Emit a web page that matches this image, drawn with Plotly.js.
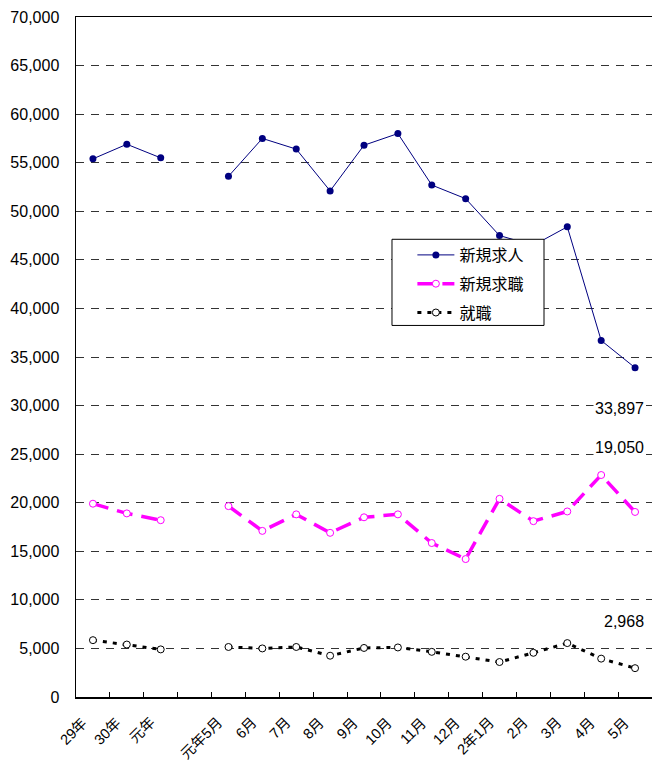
<!DOCTYPE html>
<html>
<head>
<meta charset="utf-8">
<script src="https://cdn.plot.ly/plotly-3.0.1.min.js"></script>
<style>html,body{margin:0;padding:0;background:#fff;}#chart{width:652px;height:764px;}</style>
</head>
<body>
<div id="chart"></div>
<script>
const categories = ['29年','30年','元年',' ','元年5月','6月','7月','8月','9月','10月','11月','12月','2年1月','2月','3月','4月','5月'];
const newOpenings = [55400, 56900, 55500, null, 53600, 57500, 56400, 52100, 56800, 58000, 52700, 51300, 47500, 46500, 48400, 36700, 33897];
const newSeekers  = [19900, 18900, 18200, null, 19650, 17100, 18800, 16900, 18500, 18800, 15850, 14200, 20400, 18100, 19100, 22850, 19050];
const placements  = [5850, 5400, 4900, null, 5150, 5000, 5150, 4250, 5050, 5100, 4650, 4150, 3600, 4550, 5550, 3950, 2968];
const seriesNames = ['新規求人','新規求職','就職'];
const yTickVals = [0,5000,10000,15000,20000,25000,30000,35000,40000,45000,50000,55000,60000,65000,70000];

const fontFam = "'Liberation Sans', 'Noto Sans CJK JP', sans-serif";
const fmt = v => v.toLocaleString('en-US');

const traces = [
  {x: categories, y: newOpenings, name: seriesNames[0], type: 'scatter', mode: 'lines+markers',
   connectgaps: false, legendgroup: 'a',
   line: {color: '#000080', width: 1},
   marker: {symbol: 'circle', size: 7, color: '#000080'}},
  {x: categories, y: newSeekers, name: seriesNames[1], type: 'scatter', mode: 'lines+markers',
   connectgaps: false, legendgroup: 'b',
   line: {color: '#FF00FF', width: 3.5, dash: '16px,9px'},
   marker: {symbol: 'circle', size: 7, color: '#FFFFFF', line: {color: '#FF00FF', width: 1}}},
  {x: categories, y: placements, name: seriesNames[2], type: 'scatter', mode: 'lines+markers',
   connectgaps: false, legendgroup: 'c',
   line: {color: '#000000', width: 3, dash: '4px,6px'},
   marker: {symbol: 'circle', size: 7, color: '#FFFFFF', line: {color: '#000000', width: 1}}}
];

const lastIdx = categories.length - 1;
const valueNotes = [
  {text: fmt(newOpenings[lastIdx]), yv: 29700},
  {text: fmt(newSeekers[lastIdx]), yv: 25700},
  {text: fmt(placements[lastIdx]), yv: 7750}
].map(a => ({
  xref: 'paper', yref: 'y', x: 0.99, y: a.yv, xanchor: 'right', yanchor: 'middle',
  text: a.text, showarrow: false, font: {family: fontFam, size: 16, color: '#000'},
  bgcolor: '#FFFFFF'
}));

const catLabels = categories.map(c => ({
  xref: 'x', yref: 'paper', x: c, y: 0, xanchor: 'right', yanchor: 'top',
  xshift: -1, yshift: -16, textangle: -45, borderpad: 0,
  text: c, showarrow: false, font: {family: fontFam, size: 14.5, color: '#000'}
}));

const layout = {
  width: 652, height: 764,
  margin: {l: 76, r: 0, t: 17, b: 67},
  paper_bgcolor: '#FFFFFF', plot_bgcolor: '#FFFFFF',
  showlegend: true,
  font: {family: fontFam, color: '#000'},
  xaxis: {
    type: 'category', categoryorder: 'array', categoryarray: categories,
    tickson: 'boundaries', ticks: 'inside', ticklen: 5, tickcolor: '#000', tickwidth: 1,
    showline: true, linecolor: '#000', linewidth: 1.5, mirror: true,
    showgrid: false, zeroline: false, showticklabels: false,
    range: [-0.5, categories.length - 0.5], fixedrange: true
  },
  yaxis: {
    range: [0, 70000], tickvals: yTickVals, ticktext: yTickVals.map(fmt),
    showline: true, linecolor: '#000', linewidth: 1.5, mirror: false,
    ticks: '', ticklabelstandoff: 12,
    showgrid: true, gridcolor: '#333333', gridwidth: 1, griddash: '8px,7px',
    zeroline: false,
    tickfont: {family: fontFam, size: 16, color: '#000'}, fixedrange: true
  },
  shapes: [{
    type: 'rect', xref: 'paper', yref: 'paper',
    x0: 0.5486, x1: 0.8125, y0: 0.5464, y1: 0.6731,
    fillcolor: '#FFFFFF', line: {color: '#000', width: 1}, layer: 'above'
  }],
  legend: {
    x: 0.584, y: 0.675, xanchor: 'left', yanchor: 'top',
    bgcolor: 'rgba(0,0,0,0)', borderwidth: 0,
    traceorder: 'grouped', tracegroupgap: 5, itemwidth: 37,
    font: {family: fontFam, size: 16, color: '#000'}
  },
  annotations: valueNotes.concat(catLabels)
};

Plotly.newPlot('chart', traces, layout, {staticPlot: true, displayModeBar: false});
</script>
</body>
</html>
